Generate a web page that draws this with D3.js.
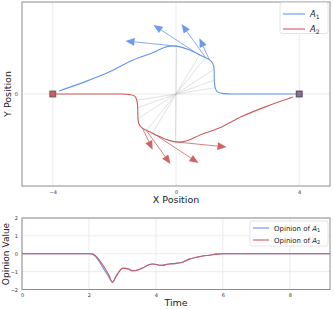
<!DOCTYPE html>
<html><head><meta charset="utf-8">
<script src="https://cdn.jsdelivr.net/npm/d3@7"></script>
<style>body{margin:0;background:#fff}svg{display:block;font-family:"DejaVu Sans",sans-serif}</style>
</head><body><svg id="c" width="334" height="309"></svg>
<script>
// ---- data ----
const a1X = [4.01, 3.3, 2.6, 1.9, 1.5, 1.34, 1.28, 1.25, 1.24, 1.24, 1.23, 1.20, 1.14, 1.05, 0.93, 0.78, 0.60, 0.40, 0.20, 0.02, -0.20, -0.40, -0.80, -1.40, -2.10, -2.90, -3.80];
const a1Y = [0, 0, 0, 0, 0.02, 0.07, 0.18, 0.35, 0.55, 0.72, 0.86, 0.98, 1.07, 1.14, 1.20, 1.27, 1.36, 1.45, 1.52, 1.56, 1.56, 1.51, 1.33, 1.11, 0.75, 0.42, 0.10];
const a2X = [-4.01, -3.3, -2.6, -1.9, -1.5, -1.34, -1.28, -1.25, -1.24, -1.24, -1.23, -1.20, -1.14, -1.05, -0.93, -0.78, -0.60, -0.40, -0.20, -0.02, 0.20, 0.40, 0.80, 1.40, 2.10, 2.90, 3.80];
const a2Y = [0, 0, 0, 0, -0.02, -0.07, -0.18, -0.35, -0.55, -0.72, -0.86, -0.98, -1.07, -1.14, -1.20, -1.27, -1.36, -1.45, -1.52, -1.56, -1.56, -1.51, -1.33, -1.11, -0.75, -0.42, -0.10];
// heading arrows: tail position and vector
const arr1 = [[0.02, 1.56, -1.66, 0.17], [0.76, 1.27, -1.49, 0.98], [0.96, 1.19, -0.78, 1.09], [1.08, 1.13, -0.32, 0.69]];
const arr2 = [[-0.02, -1.56, 1.66, -0.17], [-0.76, -1.27, 1.49, -0.98], [-0.96, -1.19, 0.78, -1.09], [-1.08, -1.13, 0.32, -0.69]];
// snapshot connecting lines (A1 point, A2 point)
const snap1 = [[0.02, 1.56], [0.76, 1.27], [0.96, 1.19], [1.23, 0.80], [1.24, 0.45], [1.26, 0.20]];
const snap2 = [[-0.02, -1.56], [-0.76, -1.27], [-0.96, -1.19], [-1.23, -0.80], [-1.24, -0.45], [-1.26, -0.20]];
const startA2 = [-4, 0];
const startA1 = [4, 0];
const xTicksTop = [-4, 0, 4];
const yTicksTop = [0];

const times = [0, 1, 2.0, 2.1, 2.2, 2.3, 2.4, 2.5, 2.6, 2.7, 2.8, 2.9, 3.0, 3.1, 3.2, 3.3, 3.4, 3.5, 3.6, 3.7, 3.8, 3.9, 4.0, 4.1, 4.2, 4.3, 4.4, 4.6, 4.8, 5.0, 5.2, 5.4, 5.6, 5.8, 6.0, 7, 8, 9.2];
const opA1 = [0, 0, 0, -0.02, -0.16, -0.42, -0.72, -1.02, -1.32, -1.6, -1.3, -1.0, -0.82, -0.82, -0.87, -0.95, -0.94, -0.88, -0.8, -0.7, -0.6, -0.57, -0.6, -0.64, -0.65, -0.6, -0.57, -0.54, -0.47, -0.3, -0.2, -0.13, -0.08, -0.02, 0, 0, 0, 0];
const opA2 = [0, 0, 0, 0, -0.12, -0.33, -0.6, -0.88, -1.22, -1.6, -1.3, -1.0, -0.82, -0.82, -0.87, -0.95, -0.94, -0.88, -0.8, -0.7, -0.6, -0.57, -0.6, -0.64, -0.65, -0.6, -0.57, -0.54, -0.47, -0.3, -0.2, -0.13, -0.08, -0.02, 0, 0, 0, 0];
const xTicksBot = [0, 2, 4, 6, 8];
const yTicksBot = [-2, -1, 0, 1, 2];

// ---- drawing ----
const BLUE = "#6495ED", RED = "#CD5C5C";
const svg = d3.select("#c");
const xT = d3.scaleLinear([-5, 5], [22, 330]);
const yT = d3.scaleLinear([-3, 3], [186, 2]);
const xB = d3.scaleLinear([0, 9.2], [22, 330]);
const yB = d3.scaleLinear([-2, 2], [289.5, 218]);

function frame(x, y, xt, yt) {
  const g = svg.append("g");
  const [x0, x1] = x.range(), [y0, y1] = y.range();
  g.selectAll(".gx").data(xt).join("line").attr("x1", d => x(d)).attr("x2", d => x(d))
    .attr("y1", y0).attr("y2", y1).attr("stroke", "#e6e6e6").attr("stroke-width", 0.8);
  g.selectAll(".gy").data(yt).join("line").attr("y1", d => y(d)).attr("y2", d => y(d))
    .attr("x1", x0).attr("x2", x1).attr("stroke", "#e6e6e6").attr("stroke-width", 0.8);
  const ax = svg.append("g").attr("transform", `translate(0,${y0})`)
    .call(d3.axisBottom(x).tickValues(xt).tickSize(0).tickPadding(4).tickFormat(d => d < 0 ? "\u2212" + (-d) : d));
  ax.select(".domain").remove();
  ax.selectAll("text").attr("font-size", 5).attr("fill", "#333").attr("font-family", "DejaVu Sans");
  const ay = svg.append("g").attr("transform", `translate(${x0},0)`)
    .call(d3.axisLeft(y).tickValues(yt).tickSize(0).tickPadding(4).tickFormat(d => d < 0 ? "\u2212" + (-d) : d));
  ay.select(".domain").remove();
  ay.selectAll("text").attr("font-size", 5).attr("fill", "#333").attr("font-family", "DejaVu Sans");
  return () => svg.append("rect").attr("x", x0).attr("y", y1).attr("width", x1 - x0).attr("height", y0 - y1)
    .attr("fill", "none").attr("stroke", "#8c8c8c").attr("stroke-width", 1);
}

// top panel
const borderTop = frame(xT, yT, xTicksTop, yTicksTop);
svg.append("g").selectAll("line").data(snap1.map((p, i) => [p, snap2[i]])).join("line")
  .attr("x1", d => xT(d[0][0])).attr("y1", d => yT(d[0][1]))
  .attr("x2", d => xT(d[1][0])).attr("y2", d => yT(d[1][1]))
  .attr("stroke", "#bbb").attr("stroke-width", 0.6).attr("opacity", 0.7);

const lineT = d3.line().x(d => xT(d[0])).y(d => yT(d[1])).curve(d3.curveCatmullRom.alpha(0.5));
svg.append("path").attr("d", lineT(a1X.map((v, i) => [v, a1Y[i]]))).attr("fill", "none")
  .attr("stroke", BLUE).attr("stroke-width", 1.1);
svg.append("path").attr("d", lineT(a2X.map((v, i) => [v, a2Y[i]]))).attr("fill", "none")
  .attr("stroke", RED).attr("stroke-width", 1.1);

function arrows(list, col) {
  list.forEach(a => {
    const tx = xT(a[0]), ty = yT(a[1]), hx = xT(a[0] + a[2]), hy = yT(a[1] + a[3]);
    const dx = hx - tx, dy = hy - ty, L = Math.hypot(dx, dy), ux = dx / L, uy = dy / L;
    const hl = 9, hw = 3.8;
    const bx = hx - ux * hl, by = hy - uy * hl;
    svg.append("line").attr("x1", tx).attr("y1", ty).attr("x2", bx).attr("y2", by)
      .attr("stroke", col).attr("stroke-width", 0.9).attr("opacity", 0.85);
    svg.append("path").attr("d", `M${hx},${hy}L${bx - uy * hw},${by + ux * hw}L${bx + uy * hw},${by - ux * hw}Z`)
      .attr("fill", col).attr("opacity", 0.95);
  });
}
arrows(arr1, BLUE);
arrows(arr2, RED);

svg.append("rect").attr("x", xT(startA2[0]) - 3).attr("y", yT(startA2[1]) - 3).attr("width", 6).attr("height", 6)
  .attr("fill", RED).attr("stroke", "#555").attr("stroke-width", 0.8);
svg.append("rect").attr("x", xT(startA1[0]) - 3).attr("y", yT(startA1[1]) - 3).attr("width", 6).attr("height", 6)
  .attr("fill", "#8d6a9a").attr("stroke", "#444").attr("stroke-width", 0.8);
borderTop();

svg.append("text").attr("x", 176).attr("y", 203).attr("text-anchor", "middle").attr("font-size", 9.5).attr("fill", "#222").text("X Position");
svg.append("text").attr("transform", "translate(11,94) rotate(-90)").attr("text-anchor", "middle").attr("font-size", 9.5).attr("fill", "#222").text("Y Position");

// legend top
const lg = svg.append("g");
lg.append("rect").attr("x", 280).attr("y", 2.5).attr("width", 48).attr("height", 31).attr("rx", 2)
  .attr("fill", "#fff").attr("fill-opacity", 0.85).attr("stroke", "#ddd").attr("stroke-width", 0.8);
[[BLUE, "1", 14], [RED, "2", 29]].forEach(([c, s, y]) => {
  lg.append("line").attr("x1", 283).attr("x2", 305).attr("y1", y).attr("y2", y).attr("stroke", c).attr("stroke-width", 1.1);
  const t = lg.append("text").attr("x", 310).attr("y", y + 3).attr("font-size", 8.5).attr("fill", "#222");
  t.append("tspan").attr("font-style", "italic").text("A");
  t.append("tspan").attr("font-size", 6).attr("dy", 2).text(s);
});

// bottom panel
const borderBot = frame(xB, yB, xTicksBot, yTicksBot);
const lineB = d3.line().curve(d3.curveMonotoneX);
svg.append("path").attr("d", lineB(times.map((t, i) => [xB(t), yB(opA1[i])]))).attr("fill", "none")
  .attr("stroke", BLUE).attr("stroke-width", 1.1);
svg.append("path").attr("d", lineB(times.map((t, i) => [xB(t), yB(opA2[i])]))).attr("fill", "none")
  .attr("stroke", RED).attr("stroke-width", 1.1);
borderBot();
svg.append("text").attr("x", 176).attr("y", 306).attr("text-anchor", "middle").attr("font-size", 9.5).attr("fill", "#222").text("Time");
svg.append("text").attr("transform", "translate(9,254) rotate(-90)").attr("text-anchor", "middle").attr("font-size", 9).attr("fill", "#222").text("Opinion Value");

const lb = svg.append("g");
lb.append("rect").attr("x", 250).attr("y", 221).attr("width", 78).attr("height", 25).attr("rx", 2)
  .attr("fill", "#fff").attr("fill-opacity", 0.85).attr("stroke", "#ddd").attr("stroke-width", 0.8);
[[BLUE, "1", 228], [RED, "2", 240]].forEach(([c, s, y]) => {
  lb.append("line").attr("x1", 253).attr("x2", 269).attr("y1", y).attr("y2", y).attr("stroke", c).attr("stroke-width", 1.1);
  const t = lb.append("text").attr("x", 274).attr("y", y + 2.5).attr("font-size", 7).attr("fill", "#222");
  t.append("tspan").text("Opinion of ");
  t.append("tspan").attr("font-style", "italic").text("A");
  t.append("tspan").attr("font-size", 5).attr("dy", 1.5).text(s);
});
</script></body></html>
